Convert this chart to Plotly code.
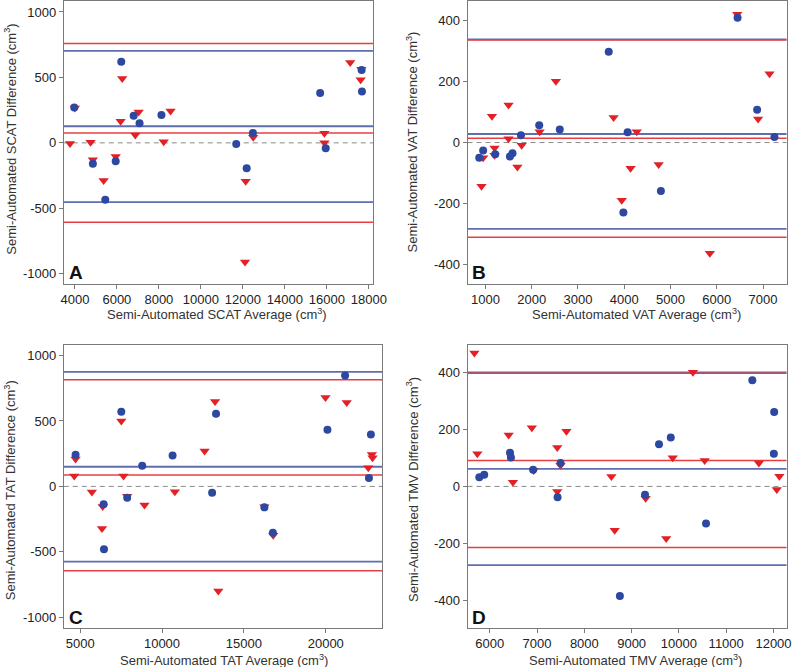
import plotly.graph_objects as go

# ---------------- Panel A (SCAT) ----------------
a_blue_x = [3969, 4856, 5447, 5944, 6209, 6800, 7080, 8122, 11684, 12182, 12478, 15682, 15947, 17658, 17673]
a_blue_y = [271, -160, -434, -140, 619, 208, 150, 213, -8, -193, 76, 381, -41, 556, 393]
a_red_x = [3767, 4000, 4747, 4856, 5369, 5944, 6178, 6256, 6878, 7034, 8231, 8558, 12135, 12104, 12493, 15884, 15884, 17113, 17642, 17611]
a_red_y = [-5, 266, 5, -129, -287, -104, 165, 492, 61, 236, 8, 244, -294, -911, 43, 74, 0, 614, 563, 482]
a_blue_lines = [703, 127, -452]
a_red_lines = [759, 76, -607]

# ---------------- Panel B (VAT) ----------------
b_blue_x = [866, 951, 1212, 1529, 1585, 1768, 2163, 2607, 3665, 3982, 4074, 4793, 6450, 6873, 7247]
b_blue_y = [-50, -26, -38, -46, -35, 24, 57, 43, 297, -229, 34, -159, 409, 107, 18]
b_red_x = [915, 951, 1141, 1197, 1197, 1500, 1500, 1691, 1783, 2171, 2523, 3771, 3947, 4137, 4271, 4744, 5851, 6443, 6894, 7141]
b_red_y = [-143, -50, 86, -18, -42, 123, 12, -80, -9, 35, 201, 82, -189, -84, 35, -72, -363, 420, 77, 225]
b_blue_lines = [338, 28, -283]
b_red_lines = [336, 14, -310]

# ---------------- Panel C (TAT) ----------------
c_blue_x = [4721, 6436, 6456, 7514, 7873, 8790, 10646, 13060, 13299, 16252, 16771, 20103, 21180, 22636, 22756]
c_blue_y = [242, -137, -481, 570, -87, 158, 237, -48, 555, -160, -354, 433, 847, 64, 397]
c_red_x = [4641, 4721, 5718, 6376, 6336, 7514, 7653, 7873, 8930, 10785, 12601, 13239, 13439, 16252, 16791, 19982, 21279, 22596, 22815, 22855]
c_red_y = [79, 209, -43, -153, -321, 499, 79, -76, -143, -41, 270, 649, -799, -155, -374, 680, 641, 143, 244, 219]
c_blue_lines = [875, 150, -575]
c_red_lines = [814, 87, -644]

# ---------------- Panel D (TMV) ----------------
d_blue_x = [5779, 5883, 6428, 6448, 6917, 7434, 7497, 8752, 9283, 9579, 9828, 10573, 11552, 12014, 12007]
d_blue_y = [32, 41, 118, 102, 59, -38, 82, -385, -29, 148, 172, -130, 373, 262, 115]
d_red_x = [5676, 5738, 6400, 6490, 6890, 6931, 7428, 7428, 7497, 7621, 8572, 8642, 9297, 9731, 9869, 10297, 10545, 11690, 12069, 12124]
d_red_y = [469, 115, 181, 15, 206, 56, 137, -18, 74, 194, 35, -154, -42, -183, 101, 401, 91, 82, -11, 36]
d_blue_lines = [401, 62, -277]
d_red_lines = [398, 91, -215]

panels = [
    dict(key="", bx=a_blue_x, by=a_blue_y, rx=a_red_x, ry=a_red_y, bl=a_blue_lines, rl=a_red_lines,
         xdom=[62/800, 378/800], ydom=[1-283/667, 1-0.5/667], xr=[3470, 18220], yr=[-1075, 1080],
         xt=[4000, 6000, 8000, 10000, 12000, 14000, 16000, 18000], yt=[-1000, -500, 0, 500, 1000],
         name="SCAT", label="A", xtitle_px=(218, 313), ytitle_px=(7, 138), label_px=(74, 272)),
    dict(key="2", bx=b_blue_x, by=b_blue_y, rx=b_red_x, ry=b_red_y, bl=b_blue_lines, rl=b_red_lines,
         xdom=[474/800, 799.5/800], ydom=[1-283/667, 1-0.5/667], xr=[613, 7508], yr=[-462, 462],
         xt=[1000, 2000, 3000, 4000, 5000, 6000, 7000], yt=[-400, -200, 0, 200, 400],
         name="VAT", label="B", xtitle_px=(646, 313), ytitle_px=(417, 141), label_px=(486, 272)),
    dict(key="3", bx=c_blue_x, by=c_blue_y, rx=c_red_x, ry=c_red_y, bl=c_blue_lines, rl=c_red_lines,
         xdom=[62/800, 387/800], ydom=[1-627.7/667, 1-344.3/667], xr=[4000, 23450], yr=[-1080, 1082],
         xt=[5000, 10000, 15000, 20000], yt=[-1000, -500, 0, 500, 1000],
         name="TAT", label="C", xtitle_px=(225, 660), ytitle_px=(7, 490), label_px=(74, 617)),
    dict(key="4", bx=d_blue_x, by=d_blue_y, rx=d_red_x, ry=d_red_y, bl=d_blue_lines, rl=d_red_lines,
         xdom=[474/800, 799.5/800], ydom=[1-627.7/667, 1-344.3/667], xr=[5530, 12275], yr=[-497, 498],
         xt=[6000, 7000, 8000, 9000, 10000, 11000, 12000], yt=[-400, -200, 0, 200, 400],
         name="TMV", label="D", xtitle_px=(645, 660), ytitle_px=(418, 489), label_px=(486, 617)),
]

BLUE_PT = "rgb(44,72,160)"
RED_PT = "rgb(226,32,38)"
BLUE_LN = "rgb(95,110,175)"
RED_LN = "rgb(232,62,66)"
FONT = "Liberation Sans, Arial, Helvetica, sans-serif"
W, H = 800, 667

fig = go.Figure()
shapes = []
annotations = []
layout = {}

def lab(v):
    return str(v)

for p in panels:
    k = p["key"]
    xa, ya = "x" + k, "y" + k
    fig.add_trace(go.Scatter(x=p["rx"], y=p["ry"], mode="markers", xaxis=xa, yaxis=ya,
                             marker=dict(symbol="triangle-down", size=9, color=RED_PT, line=dict(width=0)),
                             showlegend=False))
    fig.add_trace(go.Scatter(x=p["bx"], y=p["by"], mode="markers", xaxis=xa, yaxis=ya,
                             marker=dict(symbol="circle", size=8, color=BLUE_PT, line=dict(width=0)),
                             showlegend=False))
    axis_common = dict(showgrid=False, zeroline=False, showline=True, linecolor="#7a7a7a", linewidth=1,
                       mirror=True, ticks="outside", ticklen=4, tickcolor="#7a7a7a",
                       tickfont=dict(family=FONT, size=13, color="#222"))
    layout["xaxis" + k] = dict(axis_common, domain=p["xdom"], range=p["xr"], anchor=ya,
                               tickvals=p["xt"], ticktext=[lab(v) for v in p["xt"]])
    layout["yaxis" + k] = dict(axis_common, domain=p["ydom"], range=p["yr"], anchor=xa,
                               tickvals=p["yt"], ticktext=[lab(v) for v in p["yt"]])
    xref_dom = xa + " domain"
    shapes.append(dict(type="line", xref=xref_dom, yref=ya, x0=0, x1=1, y0=0, y1=0,
                       line=dict(color="#8a8a8a", width=1, dash="5px,4px"), layer="below"))
    for v in p["bl"]:
        shapes.append(dict(type="line", xref=xref_dom, yref=ya, x0=0, x1=1, y0=v, y1=v,
                           line=dict(color=BLUE_LN, width=1.8), layer="below"))
    for v in p["rl"]:
        shapes.append(dict(type="line", xref=xref_dom, yref=ya, x0=0, x1=1, y0=v, y1=v,
                           line=dict(color=RED_LN, width=1.5), layer="below"))
    tx, ty = p["xtitle_px"]
    annotations.append(dict(text="Semi-Automated %s Average (cm<sup>3</sup>)" % p["name"],
                            xref="paper", yref="paper", x=tx / W, y=1 - ty / H, showarrow=False,
                            xanchor="center", yanchor="middle",
                            font=dict(family=FONT, size=13, color="#333")))
    yx, yy = p["ytitle_px"]
    annotations.append(dict(text="Semi-Automated %s Difference (cm<sup>3</sup>)" % p["name"],
                            xref="paper", yref="paper", x=yx / W, y=1 - yy / H, showarrow=False,
                            textangle=-90, xanchor="center", yanchor="middle",
                            font=dict(family=FONT, size=13, color="#333")))
    lx, ly = p["label_px"]
    annotations.append(dict(text="<b>%s</b>" % p["label"], xref="paper", yref="paper",
                            x=lx / W, y=1 - ly / H, showarrow=False, xanchor="center", yanchor="middle",
                            font=dict(family=FONT, size=19, color="#111")))

fig.update_layout(**layout)
fig.update_layout(width=W, height=H, margin=dict(l=0, r=0, t=0, b=0),
                  paper_bgcolor="white", plot_bgcolor="white",
                  shapes=shapes, annotations=annotations, showlegend=False)
fig.write_html("out.html", config={"displayModeBar": False},
               post_script="document.body.style.margin='0';document.body.style.overflow='hidden';")
